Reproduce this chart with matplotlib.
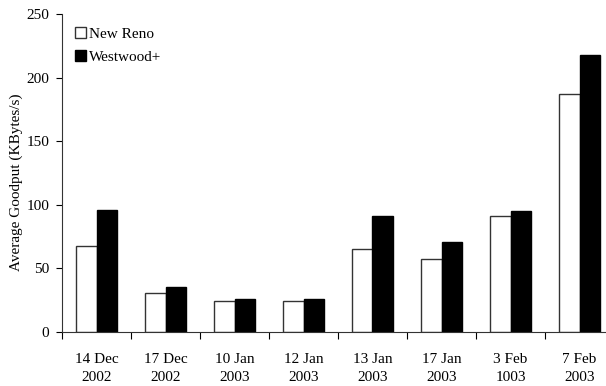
import numpy as np
import matplotlib
matplotlib.use("Agg")
import matplotlib.pyplot as plt

plt.rcParams['font.family'] = ['Liberation Serif', 'DejaVu Serif']

dates = ["14 Dec\n2002", "17 Dec\n2002", "10 Jan\n2003", "12 Jan\n2003",
         "13 Jan\n2003", "17 Jan\n2003", "3 Feb\n1003", "7 Feb\n2003"]
new_reno = [68, 31, 24, 24, 65, 57.5, 91.5, 187]
westwood = [96, 35, 26, 26, 91.5, 70.5, 95, 217.5]

fig = plt.figure(figsize=(6.06, 3.86), dpi=100)
# axes run slightly past the right edge of the figure
ax = fig.add_axes([62 / 606, 54 / 386, 552 / 606, 318 / 386])

x = np.arange(len(dates))
w = 0.29
ax.bar(x - w / 2, new_reno, w, color='white', edgecolor='#333333', linewidth=1.0,
       label='New Reno')
ax.bar(x + w / 2, westwood, w, color='black', edgecolor='black', linewidth=1.0,
       label='Westwood+')

ax.set_xlim(-0.5, len(dates) - 0.5)
ax.set_ylim(0, 250)
ax.set_yticks([0, 50, 100, 150, 200, 250])
ax.tick_params(axis='y', labelsize=11, length=4, width=0.8, direction='out', pad=5)

# boundary ticks between days, labels centred under each pair
ax.set_xticks(np.arange(len(dates) + 1) - 0.5)
ax.set_xticklabels([])
ax.set_xticks(x, minor=True)
ax.set_xticklabels(dates, minor=True, fontsize=11, linespacing=1.55)
ax.tick_params(axis='x', which='major', length=5, width=0.8, direction='out')
ax.tick_params(axis='x', which='minor', length=0, pad=15)

for side in ['top', 'right']:
    ax.spines[side].set_visible(False)
for side in ['left', 'bottom']:
    ax.spines[side].set_linewidth(0.8)
    ax.spines[side].set_color('#333333')

ax.set_ylabel('Average Goodput (KBytes/s)', fontsize=11)
ax.yaxis.set_label_coords(-39 / 552, 0.47)

ax.legend(loc='upper left', bbox_to_anchor=(0.0, 1.0), frameon=False,
          fontsize=11, handlelength=0.7, handleheight=0.7, handletextpad=0.2,
          labelspacing=0.6, borderaxespad=0.45)

fig.savefig('out.png', dpi=100)
